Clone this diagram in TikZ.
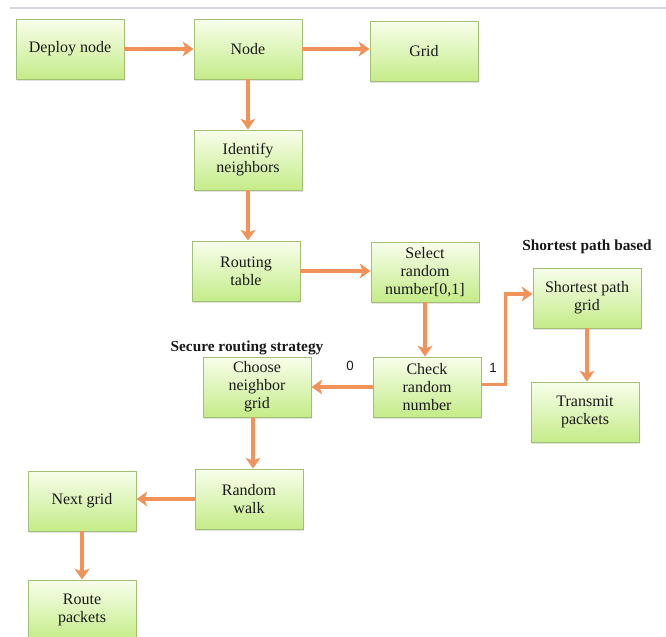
\documentclass[tikz,border=0pt]{standalone}
\usepackage{fontspec}
\setmainfont{Liberation Serif}
\newfontfamily\labelsans{Liberation Sans}
\usetikzlibrary{arrows.meta,shadows}
\definecolor{boxtop}{HTML}{F8FEEC}
\definecolor{boxbot}{HTML}{C4EC88}
\definecolor{boxline}{HTML}{A3BF74}
\definecolor{arrowor}{HTML}{F0925A}
\definecolor{topline}{HTML}{D2D6E2}
\tikzset{
  flowbox/.style={draw=boxline, line width=0.7pt, top color=boxtop, bottom color=boxbot,
    minimum width=81pt, minimum height=45pt, align=center, inner sep=2pt,
    font=\fontsize{12}{13.5}\selectfont, text=black!90,
    drop shadow={shadow xshift=1pt, shadow yshift=-1.2pt, opacity=0.25, fill=black!45}},
  arr/.style={draw=arrowor, line width=2.7pt,
    -{Stealth[length=8pt,width=11pt,inset=2pt]}},
  grouplabel/.style={font=\bfseries\fontsize{11.5}{13}\selectfont, text=black!90},
  branchlabel/.style={font=\labelsans\fontsize{10}{12}\selectfont, text=black!90}
}
\begin{document}
\begin{tikzpicture}[x=0.75pt,y=-0.75pt]
\clip (0,0) rectangle (666,636);
\fill[white] (0,0) rectangle (666,636);
\draw[topline, line width=0.8pt] (10,8) -- (666,8);

\node[flowbox] (deploy) at (70,49) {Deploy node};
\node[flowbox] (node) at (248,49) {Node};
\node[flowbox] (grid) at (424,51) {Grid};
\node[flowbox] (ident) at (248,160) {Identify\\neighbors};
\node[flowbox] (routing) at (246,271) {Routing\\table};
\node[flowbox] (select) at (425,272) {Select\\random\\number[0,1]};
\node[flowbox] (check) at (427,387) {Check\\random\\number};
\node[flowbox] (choose) at (257,387) {Choose\\neighbor\\grid};
\node[flowbox] (sp) at (587,298) {Shortest path\\grid};
\node[flowbox] (transmit) at (585,412) {Transmit\\packets};
\node[flowbox] (rw) at (249,499) {Random\\walk};
\node[flowbox] (next) at (82,501) {Next grid};
\node[flowbox] (route) at (82,610) {Route\\packets};

\node[grouplabel] (spl) at (587,247) {Shortest path based};
\node[grouplabel] (srl) at (247,348) {Secure routing strategy};
\node[branchlabel] (zero) at (350,366) {0};
\node[branchlabel] (one) at (493,368) {1};

\draw[arr] (deploy.east) -- (node.west);
\draw[arr] (node.east) -- (node.east -| grid.west);
\draw[arr] (node.south) -- (ident.north);
\draw[arr] (ident.south) -- (ident.south |- routing.north);
\draw[arr] (routing.east) -- (routing.east -| select.west);
\draw[arr] (select.south) -- (select.south |- check.north);
\draw[arr] (check.west) -- (choose.east);
\draw[arr] ([yshift=2pt]check.east) -- ++(24,0) |- ([yshift=3pt]sp.west);
\draw[arr] (sp.south) -- (sp.south |- transmit.north);
\draw[arr] ([xshift=-3pt]choose.south) -- ([xshift=-3pt]choose.south |- rw.north);
\draw[arr] (rw.west) -- (rw.west -| next.east);
\draw[arr] (next.south) -- (route.north);
\end{tikzpicture}
\end{document}
